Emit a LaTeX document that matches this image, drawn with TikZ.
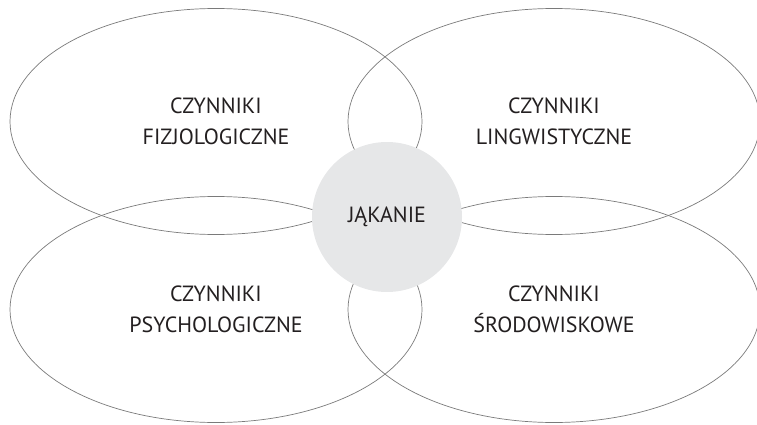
\documentclass[tikz,border=0pt]{standalone}
\usepackage{fontspec}
\setmainfont{PT Sans}
\usetikzlibrary{shapes.geometric, positioning}
\definecolor{ringgray}{HTML}{7A7A7A}
\definecolor{corefill}{HTML}{E6E7E8}
\definecolor{textdark}{HTML}{231F20}

\begin{document}
\begin{tikzpicture}[
    x=1pt, y=1pt,
    factor/.style={draw=ringgray, line width=0.7pt, ellipse, minimum width=412pt, minimum height=226pt, inner sep=0pt, align=center, text=textdark, font=\fontsize{22}{31}\selectfont},
    core/.style={circle, fill=corefill, minimum size=150pt, inner sep=0pt, text=textdark, font=\fontsize{22}{31}\selectfont},
]
\useasboundingbox (0,0) rectangle (757,424);

% Factor ellipses
\node[factor] (fizjo) at (216, 302.5) {CZYNNIKI\\FIZJOLOGICZNE};
\node[factor] (lingw) at (554, 302.5) {CZYNNIKI\\LINGWISTYCZNE};
\node[factor] (psych) at (216, 114.5) {CZYNNIKI\\PSYCHOLOGICZNE};
\node[factor] (srodo) at (554, 114.5) {CZYNNIKI\\ŚRODOWISKOWE};

% Central circle
\node[core] (jakanie) at (387, 207) {JĄKANIE};

\end{tikzpicture}
\end{document}
